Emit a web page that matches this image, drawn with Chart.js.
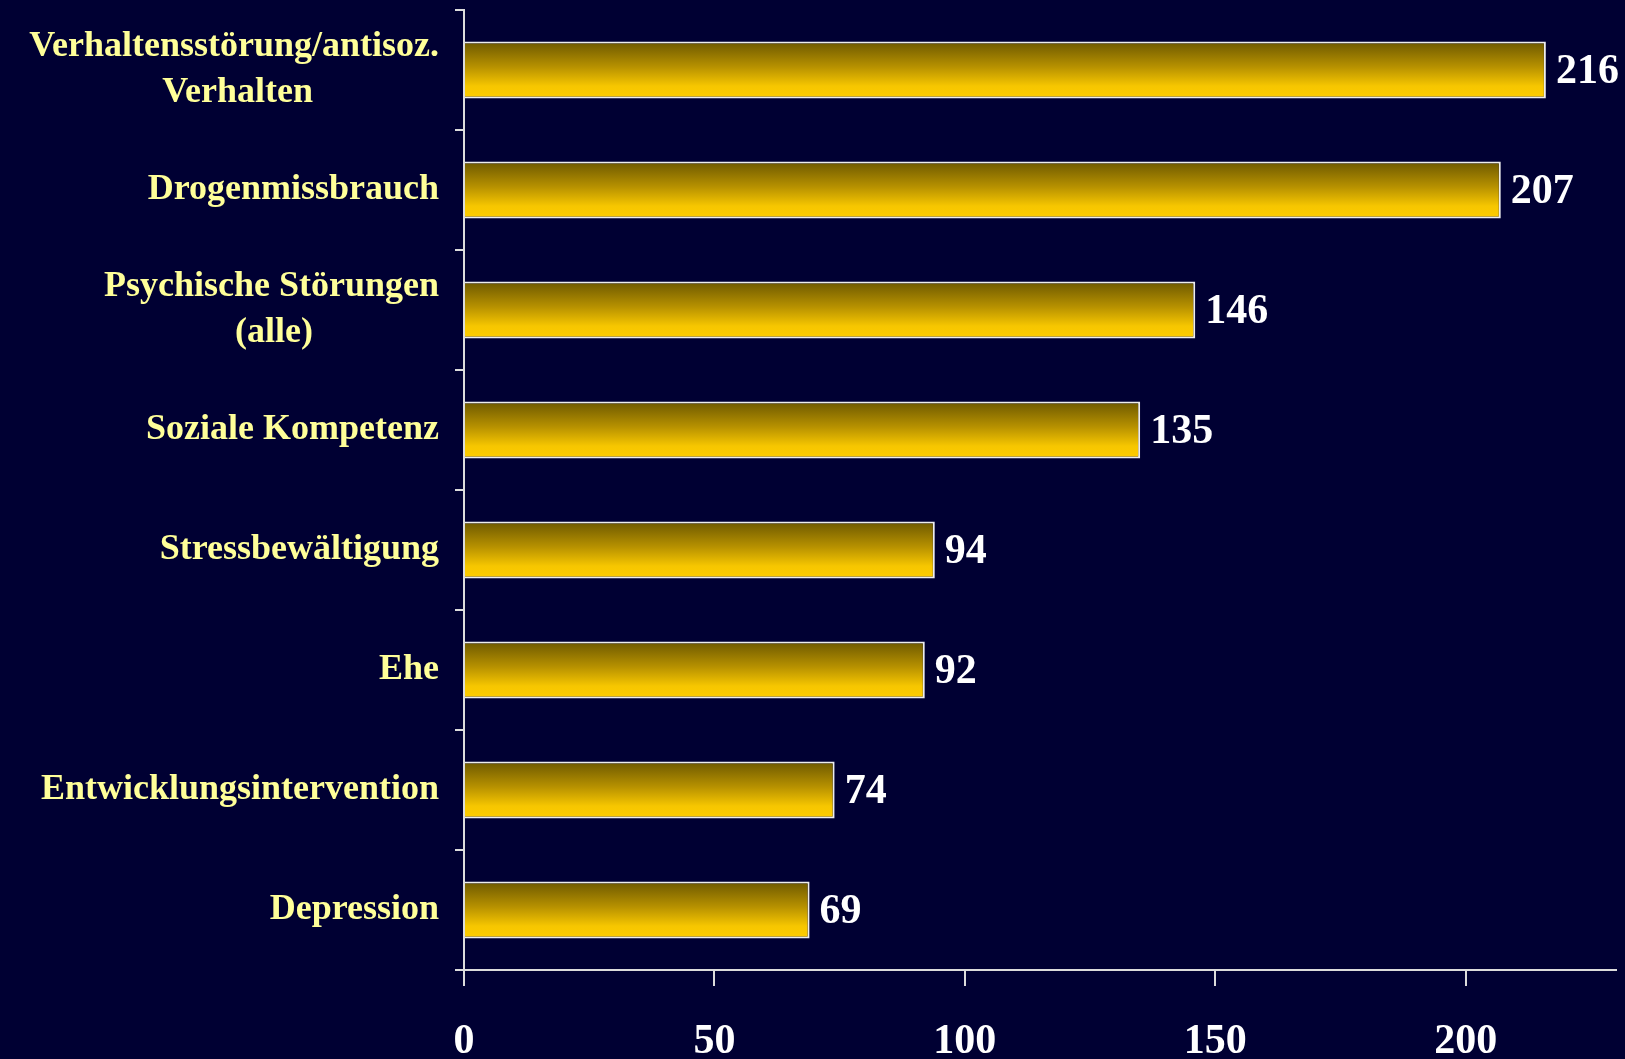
<!DOCTYPE html>
<html lang="de">
<head>
    <meta charset="UTF-8">
    <title>Studien nach Problembereich</title>
    <script src="https://cdn.jsdelivr.net/npm/chart.js"></script>
    <style>
        html, body { margin: 0; padding: 0; background: #000033; overflow: hidden; }
        #wrap { width: 1625px; height: 1059px; position: relative; }
    </style>
</head>
<body>
<div id="wrap"><canvas id="barChart"></canvas></div>
<script>
// categories (top to bottom) and number of studies per area
const categories = [
    ['Verhaltensstörung/antisoz.', 'Verhalten'],
    'Drogenmissbrauch',
    ['Psychische Störungen', '(alle)'],
    'Soziale Kompetenz',
    'Stressbewältigung',
    'Ehe',
    'Entwicklungsintervention',
    'Depression'
];
const studies = [216, 207, 146, 135, 94, 92, 74, 69];
const axisMax = 230;
const axisStep = 50;

const barPct = 0.475;
const labelFont = { family: '"Liberation Serif", "Times New Roman", serif', size: 36, weight: 'bold', lineHeight: 1.28 };
const numberFont = { family: '"Liberation Serif", "Times New Roman", serif', size: 42, weight: 'bold' };
const lineColor = '#dcdcdc';

// center the lines of a wrapped label against each other (labels are right-aligned)
const measureCtx = document.createElement('canvas').getContext('2d');
measureCtx.font = `${labelFont.weight} ${labelFont.size}px ${labelFont.family}`;
function centerLines(label) {
    if (!Array.isArray(label)) return label;
    const widths = label.map(l => measureCtx.measureText(l).width);
    const widest = Math.max(...widths);
    const space = measureCtx.measureText(' ').width;
    return label.map((l, i) => l + ' '.repeat(Math.round((widest - widths[i]) / 2 / space)));
}

// golden vertical gradient, spanning the height of each bar
function barFill(context) {
    const chart = context.chart;
    const y = chart.scales.y;
    if (!y || context.dataIndex === undefined) return '#ffcc00';
    const p0 = y.getPixelForValue(0);
    const p1 = y.getPixelForValue(1);
    const c = y.getPixelForValue(context.dataIndex);
    if (![p0, p1, c].every(Number.isFinite) || p0 === p1) return '#ffcc00';
    const h = Math.abs(p1 - p0) * barPct;
    const top = c - h / 2;
    const g = chart.ctx.createLinearGradient(0, top, 0, top + h);
    g.addColorStop(0, '#6c5800');
    g.addColorStop(0.45, '#b89200');
    g.addColorStop(0.78, '#f6c600');
    g.addColorStop(1, '#ffcc00');
    return g;
}

// value printed at the end of each bar
const barValues = {
    id: 'barValues',
    afterDatasetsDraw(chart) {
        const ctx = chart.ctx;
        const ds = chart.data.datasets[0];
        ctx.save();
        ctx.font = `${numberFont.weight} ${numberFont.size}px ${numberFont.family}`;
        ctx.fillStyle = '#ffffff';
        ctx.textAlign = 'left';
        ctx.textBaseline = 'middle';
        chart.getDatasetMeta(0).data.forEach((bar, i) => {
            ctx.fillText(String(ds.data[i]), bar.x + 10, bar.y + 2);
        });
        ctx.restore();
    }
};

new Chart(document.getElementById('barChart'), {
    type: 'bar',
    data: {
        labels: categories,
        datasets: [{
            data: studies,
            backgroundColor: barFill,
            borderColor: '#eeeeee',
            borderWidth: 2,
            borderSkipped: 'start',
            categoryPercentage: 1,
            barPercentage: barPct
        }]
    },
    options: {
        indexAxis: 'y',
        responsive: true,
        maintainAspectRatio: false,
        animation: false,
        layout: { padding: { top: 10, right: 9, left: 0, bottom: 0 } },
        plugins: {
            legend: { display: false },
            tooltip: { enabled: false }
        },
        scales: {
            x: {
                min: 0,
                max: axisMax,
                afterFit: s => { s.height = 89; s.paddingLeft = 0; s.paddingRight = 0; },
                ticks: {
                    stepSize: axisStep,
                    includeBounds: false,
                    color: '#ffffff',
                    font: numberFont,
                    padding: 31,
                    maxRotation: 0
                },
                grid: { drawOnChartArea: false, tickLength: 16, color: lineColor, lineWidth: 2 },
                border: { color: lineColor, width: 2 }
            },
            y: {
                afterFit: s => { s.width = 464; s.paddingTop = 0; s.paddingBottom = 0; },
                ticks: {
                    color: '#ffff99',
                    font: labelFont,
                    padding: 16,
                    autoSkip: false,
                    callback: function (value, index) { return centerLines(categories[index]); }
                },
                grid: { drawOnChartArea: false, offset: true, tickLength: 9, color: lineColor, lineWidth: 2 },
                border: { color: lineColor, width: 2 }
            }
        }
    },
    plugins: [barValues]
});
</script>
</body>
</html>
